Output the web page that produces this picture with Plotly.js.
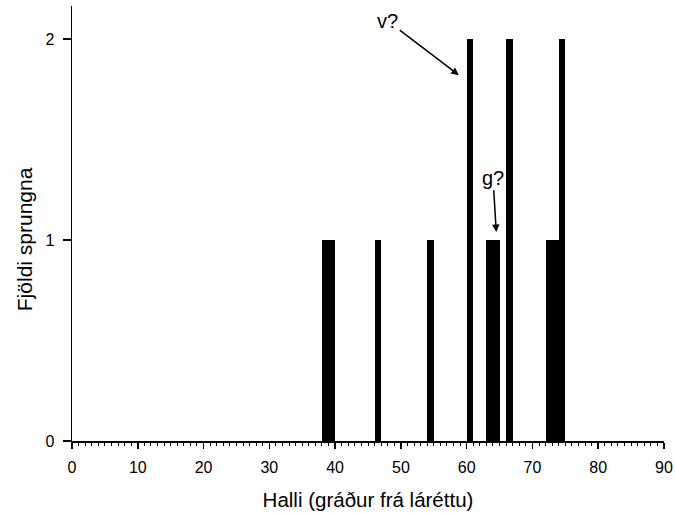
<!DOCTYPE html>
<html>
<head>
<meta charset="utf-8">
<script src="https://cdn.plot.ly/plotly-3.0.1.min.js"></script>
<style>html,body{margin:0;padding:0;background:#fff;}#chart{width:675px;height:513px;}</style>
</head>
<body>
<div id="chart"></div>
<script>
// Bin left edges (degrees) and counts
const angleBins = [38, 39, 46, 54, 60, 63, 64, 66, 72, 73, 74];
const counts    = [1, 1, 1, 1, 2, 1, 1, 2, 1, 1, 2];
const yTicks = [0, 1, 2];
const xTicks = [0, 10, 20, 30, 40, 50, 60, 70, 80, 90];

const FONT = 'Arial, "Liberation Sans", Helvetica, sans-serif';

const trace = {
  type: 'bar',
  x: angleBins,
  y: counts,
  offset: 0,
  width: 1,
  marker: {color: '#000', line: {width: 0}},
  hoverinfo: 'x+y'
};

const layout = {
  width: 675, height: 513,
  margin: {l: 72, r: 11, t: 6, b: 72, pad: 0},
  paper_bgcolor: '#fff', plot_bgcolor: '#fff',
  showlegend: false,
  bargap: 0,
  font: {family: FONT, color: '#000', size: 16},
  xaxis: {
    range: [0, 90],
    tickvals: xTicks,
    ticktext: xTicks.map(String),
    ticks: 'outside', ticklen: 6, tickwidth: 1.5, tickcolor: '#000',
    minor: {dtick: 1, tick0: 0, ticks: 'outside', ticklen: 3, tickwidth: 1, tickcolor: '#000', showgrid: false},
    showline: true, linecolor: '#000', linewidth: 1.5,
    showgrid: false, zeroline: false,
    tickfont: {family: FONT, size: 16, color: '#000'},
    ticklabelstandoff: 5,
    title: {text: 'Halli (gráður frá láréttu)', font: {family: FONT, size: 20.5, color: '#000'}, standoff: 18}
  },
  yaxis: {
    range: [0, 2.164],
    tickvals: yTicks,
    ticktext: yTicks.map(String),
    ticks: 'outside', ticklen: 8, tickwidth: 1.5, tickcolor: '#000',
    showline: true, linecolor: '#000', linewidth: 1.5,
    showgrid: false, zeroline: false,
    tickfont: {family: FONT, size: 16, color: '#000'},
    ticklabelstandoff: 5
  },
  annotations: [
    {
      xref: 'paper', yref: 'paper',
      x: -0.081, y: 0.464, xanchor: 'center', yanchor: 'middle',
      text: 'Fjöldi sprungna', textangle: -90, showarrow: false,
      font: {family: FONT, size: 21, color: '#000'}
    },
    {
      xref: 'x', yref: 'y', axref: 'x', ayref: 'y',
      x: 58.8, y: 1.82, ax: 48.0, ay: 2.09,
      text: 'v?', showarrow: true, arrowhead: 2, arrowsize: 1, arrowwidth: 1.5, arrowcolor: '#000',
      font: {family: FONT, size: 20, color: '#000'}
    },
    {
      xref: 'x', yref: 'y', axref: 'x', ayref: 'y',
      x: 64.5, y: 1.04, ax: 64.0, ay: 1.31,
      text: 'g?', showarrow: true, arrowhead: 2, arrowsize: 1, arrowwidth: 1.5, arrowcolor: '#000',
      font: {family: FONT, size: 20, color: '#000'}
    }
  ]
};

Plotly.newPlot('chart', [trace], layout, {displayModeBar: false, staticPlot: true});
</script>
</body>
</html>
